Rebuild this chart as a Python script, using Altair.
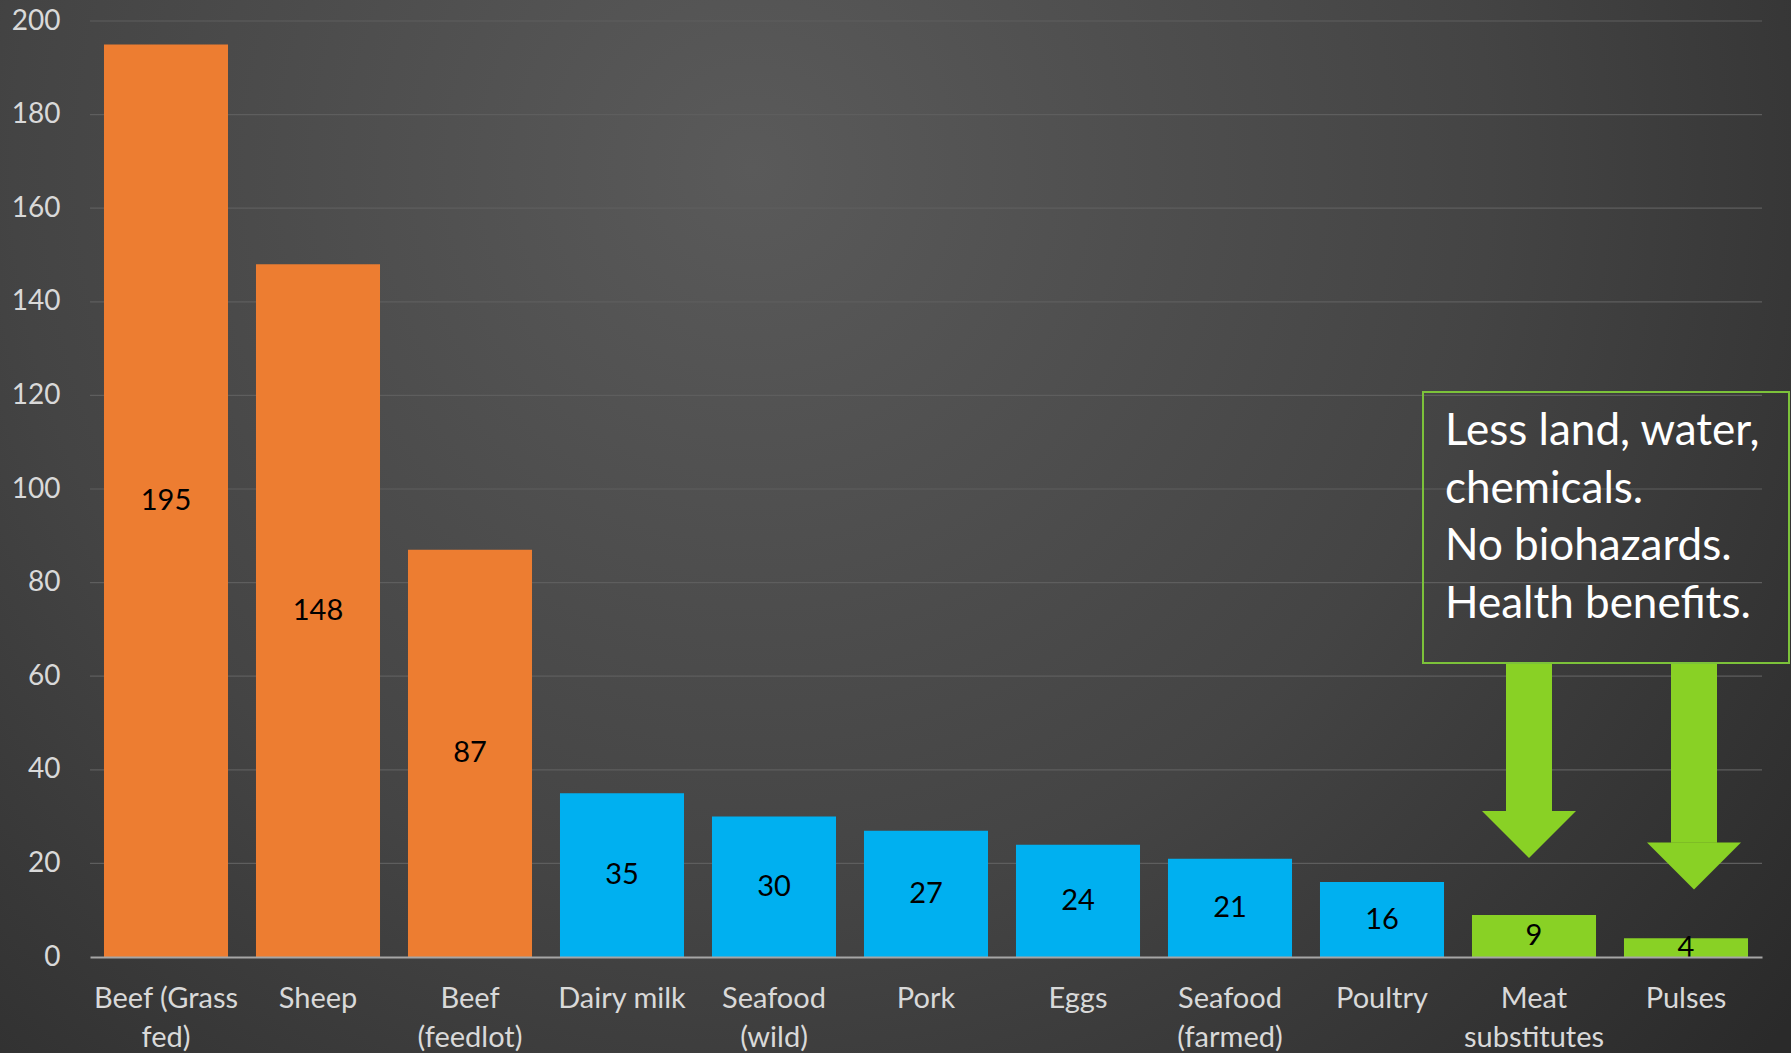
import altair as alt
import pandas as pd

# ---------------- data ----------------
categories = ["Beef (Grass|fed)", "Sheep", "Beef|(feedlot)", "Dairy milk", "Seafood|(wild)",
              "Pork", "Eggs", "Seafood|(farmed)", "Poultry", "Meat|substitutes", "Pulses"]
values = [195, 148, 87, 35, 30, 27, 24, 21, 16, 9, 4]
groups = ["ruminant", "ruminant", "ruminant", "other", "other", "other",
          "other", "other", "other", "plant", "plant"]
group_names = ["ruminant", "other", "plant"]
group_colors = ["#ED7D31", "#00B0F0", "#89D125"]
y_ticks = [20, 40, 60, 80, 100, 120, 140, 160, 180, 200]

note_lines = ["Less land, water,", "chemicals.", "No biohazards.", "Health benefits."]
arrow_targets = ["Meat|substitutes", "Pulses"]
arrow_top = [62.8, 62.8]
arrow_neck = [31.2, 24.4]
arrow_tip = [21.2, 14.5]
arrow_shift = [-5, 8]

W, H = 1672, 936
PAD = {"left": 90, "top": 21, "right": 29, "bottom": 96}
FONT = "Lato"
GREEN = "#89D125"

df = pd.DataFrame({"cat": categories, "v": values, "g": groups})
grid_df = pd.DataFrame({"t": y_ticks})

x_scale = alt.Scale(domain=categories, paddingInner=0.184, paddingOuter=0.092)
y_scale = alt.Scale(domain=[0, 200], nice=False, zero=True)

x_axis = alt.Axis(
    labelExpr="split(datum.value, '|')", labelFontSize=29, labelColor="#d9d9d9", labelFont=FONT,
    labelAngle=0, labelLineHeight=39, labelPadding=27, domainColor="#a6a6a6", domainWidth=2,
    ticks=False, grid=False, title=None, zindex=2, labelBaseline="top",
)
y_axis = alt.Axis(
    values=[0] + y_ticks, labelFontSize=28, labelColor="#d9d9d9", labelFont=FONT,
    labelPadding=30, domain=False, ticks=False, grid=False, title=None, zindex=2,
)

X = alt.X("cat:N", sort=categories, scale=x_scale, axis=x_axis, title=None)


def Y(field):
    return alt.Y(field, scale=y_scale, axis=y_axis, title=None)


bg = alt.Chart(pd.DataFrame({"k": [0]})).mark_rect(
    clip=False,
    fill={"gradient": "radial", "x1": 0.42, "y1": 0.3, "r1": 0.0, "x2": 0.42, "y2": 0.3, "r2": 0.75,
          "stops": [{"offset": 0, "color": "#5a5a5a"}, {"offset": 0.55, "color": "#444444"},
                    {"offset": 1, "color": "#2a2a2a"}]},
).encode(x=alt.value(-PAD["left"]), x2=alt.value(W + PAD["right"]),
         y=alt.value(-PAD["top"]), y2=alt.value(H + PAD["bottom"]))

grid = alt.Chart(grid_df).mark_rule(color="#5e5e5e", strokeWidth=1.2).encode(y=Y("t:Q"))

bars = alt.Chart(df).mark_bar().encode(
    x=X,
    y=Y("v:Q"),
    color=alt.Color("g:N", scale=alt.Scale(domain=group_names, range=group_colors), legend=None),
)

labels = alt.Chart(df).transform_calculate(mid="datum.v / 2").mark_text(
    baseline="middle", align="center", fontSize=29, font=FONT, color="black"
).encode(x=X, y=Y("mid:Q"), text=alt.Text("v:Q"))

arrow_layers = []
for cat, top, neck, tip, dx in zip(arrow_targets, arrow_top, arrow_neck, arrow_tip, arrow_shift):
    a_df = pd.DataFrame({"cat": [cat], "top": [top], "neck": [neck], "tip": [tip]})
    shaft = alt.Chart(a_df).mark_bar(width=46, color=GREEN, clip=False, xOffset=dx).encode(
        x=X, y=Y("top:Q"), y2="neck:Q",
    )
    head = alt.Chart(a_df).transform_calculate(hm="(datum.neck + datum.tip) / 2").mark_point(
        shape="M-1,-0.5L1,-0.5L0,0.5Z", size=94 * 94, filled=True, opacity=1, color=GREEN,
        strokeWidth=0, xOffset=dx,
    ).encode(x=X, y=Y("hm:Q"))
    arrow_layers += [shaft, head]

box = alt.Chart(pd.DataFrame({"k": [0]})).mark_rect(
    filled=False, stroke="#7cc23a", strokeWidth=2, clip=False, fillOpacity=0
).encode(x=alt.value(1333), x2=alt.value(1699), y=alt.value(371), y2=alt.value(642))

note = alt.Chart(pd.DataFrame({"k": [0]})).mark_text(
    align="left", baseline="alphabetic", fontSize=44, font=FONT, color="white", lineHeight=57.5, clip=False
).encode(x=alt.value(1355), y=alt.value(424), text=alt.value(note_lines))

chart = alt.layer(bg, grid, bars, labels, *arrow_layers, box, note).properties(
    width=W, height=H, padding=PAD, autosize=alt.AutoSizeParams(type="none"),
    background="#2e2e2e",
).configure_view(stroke=None)

chart.save("out.html", embed_options={"renderer": "svg", "actions": False})
